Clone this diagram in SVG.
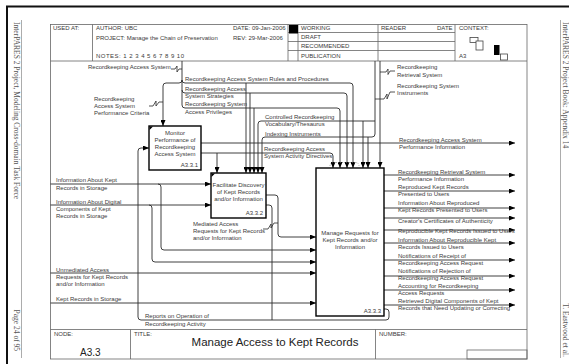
<svg xmlns="http://www.w3.org/2000/svg" width="569" height="364" viewBox="0 0 569 364">
<style>
.t{font-family:"Liberation Sans",Arial,sans-serif;font-size:6px;fill:#3a3a3a}
.tm{text-anchor:middle}
.te{text-anchor:end}
.s{font-family:"Liberation Serif","Times New Roman",serif;font-size:7.5px;fill:#555}
.c{fill:none;stroke:#2a2a2a;stroke-width:0.9}
.a{marker-end:url(#ah)}
.box{fill:#fff;stroke:#000;stroke-width:1.4}
.f{fill:none;stroke:#666;stroke-width:0.8}
.sq{fill:none;stroke:#2a2a2a;stroke-width:0.8}
</style>
<defs>
<marker id="ah" markerUnits="userSpaceOnUse" markerWidth="6" markerHeight="5" refX="6" refY="2.5" orient="auto">
<path d="M0,0 L6,2.5 L0,5 z" fill="#000"/>
</marker>
</defs>
<rect width="569" height="364" fill="#fff"/>
<g id="page">
<path d="M7,364 V6.5 H569" fill="none" stroke="#111" stroke-width="2"/>
<line x1="21.5" y1="20" x2="21.5" y2="358" stroke="#888" stroke-width="0.7"/>
<line x1="560.5" y1="20" x2="560.5" y2="358" stroke="#888" stroke-width="0.7"/>
<text class="s" transform="translate(13.5,22) rotate(90)">InterPARES 2 Project, Modeling Cross-domain Task Force</text>
<text class="s" transform="translate(13.5,351) rotate(90)" text-anchor="end">Page 24 of 95</text>
<text class="s" transform="translate(562.5,22) rotate(90)">InterPARES 2 Project Book: Appendix 14</text>
<text class="s" transform="translate(562.5,357) rotate(90)" text-anchor="end">T. Eastwood et al.</text>
</g>
<g id="form">
<rect x="50.5" y="24.5" width="476.5" height="334.5" class="f"/>
<line x1="50.5" y1="61" x2="527" y2="61" class="f"/>
<line x1="92.5" y1="24.5" x2="92.5" y2="61" class="f"/>
<line x1="288" y1="24.5" x2="288" y2="61" class="f"/>
<line x1="298" y1="24.5" x2="298" y2="61" class="f"/>
<line x1="378" y1="24.5" x2="378" y2="61" class="f"/>
<line x1="455" y1="24.5" x2="455" y2="61" class="f"/>
<line x1="288" y1="32.5" x2="455" y2="32.5" class="f"/>
<line x1="288" y1="41.5" x2="455" y2="41.5" class="f"/>
<line x1="288" y1="50.5" x2="455" y2="50.5" class="f"/>
<rect x="289" y="25" width="9" height="8.5" fill="#000"/>
<text class="t" x="53" y="30">USED AT:</text>
<text class="t" x="96" y="30">AUTHOR:  UBC</text>
<text class="t" x="96" y="40">PROJECT:  Manage the Chain of Preservation</text>
<text class="t" x="96" y="58" textLength="88" lengthAdjust="spacing">NOTES:  1  2  3  4  5  6  7  8  9  10</text>
<text class="t" x="233" y="30">DATE:  09-Jan-2006</text>
<text class="t" x="233" y="40">REV:    29-Mar-2006</text>
<text class="t" x="301" y="30">WORKING</text>
<text class="t" x="301" y="39">DRAFT</text>
<text class="t" x="301" y="48">RECOMMENDED</text>
<text class="t" x="301" y="58">PUBLICATION</text>
<text class="t" x="381" y="30">READER</text>
<text class="t" x="437" y="30">DATE</text>
<text class="t" x="459" y="30">CONTEXT:</text>
<text class="t" x="459" y="58">A3</text>
<rect x="470" y="37.5" width="8" height="5" fill="#fff" stroke="#444" stroke-width="0.8"/>
<rect x="476" y="41" width="7" height="9" fill="#fff" stroke="#444" stroke-width="0.8"/>
<rect x="494" y="45" width="5.5" height="10" fill="#000"/>
<rect x="500.5" y="54" width="7" height="6" fill="#fff" stroke="#444" stroke-width="0.8"/>
<line x1="50.5" y1="329.5" x2="527" y2="329.5" class="f"/>
<line x1="130.5" y1="329.5" x2="130.5" y2="359" class="f"/>
<line x1="375.5" y1="329.5" x2="375.5" y2="359" class="f"/>
<rect x="467" y="350" width="60" height="9" class="f"/>
<text class="t" x="54" y="336">NODE:</text>
<text class="t" x="134" y="336">TITLE:</text>
<text class="t" x="379" y="336">NUMBER:</text>
<text x="80" y="355.5" style="font-family:'Liberation Sans',Arial,sans-serif;font-size:10px;fill:#222">A3.3</text>
<text x="275" y="346" text-anchor="middle" style="font-family:'Liberation Sans',Arial,sans-serif;font-size:11.5px;fill:#222">Manage Access to Kept Records</text>
</g>
<g id="connectors">
<path class="c a" d="M182,61 V105 Q182,108 185,108 H337 Q340,108 340,111 V168"/>
<path class="c a" d="M182,80 Q182,83 185,83 H350 Q353,83 353,86 V168"/>
<path class="c a" d="M182,80 Q182,83 179,83 H166 Q163,83 163,86 V126"/>
<path class="c a" d="M182,90 Q182,93 185,93 H344 Q347,93 347,96 V168"/>
<path class="c a" d="M246,83 V173"/>
<path class="c a" d="M250,93 V173"/>
<path class="c a" d="M254,108 V173"/>
<path class="c a" d="M375,61 V134 Q375,137 372,137 H265 Q262,137 262,140 V173"/>
<path class="c a" d="M375,121 H261 Q258,121 258,124 V173"/>
<path class="c a" d="M363,121 V168"/>
<path class="c a" d="M368,137 V168"/>
<path class="c a" d="M380,61 V168"/>
<path class="c a" d="M201,143 H515"/>
<path class="c a" d="M201,153 H330 Q333,153 333,156 V168"/>
<path class="c a" d="M217,153 V173"/>
<path d="M330,166 Q330,162.5 334,162.5 H355 Q359,162.5 359,166" fill="none" stroke="#777" stroke-width="0.6" stroke-dasharray="1,1"/>
<path class="c a" d="M384,309 H386 Q389,309 389,312 V317 Q389,320 386,320 H141 Q138,320 138,317 V151 Q138,148 141,148 H149"/>
<path class="c" d="M266,205 H269 Q272,205 272,208 V320"/>
<path class="c a" d="M266,195 H275 Q278,195 278,198 V234 Q278,237 281,237 H316"/>
<path class="c a" d="M50.5,184 H211"/>
<path class="c a" d="M158,184 Q161,184 161,187 V247 Q161,250 164,250 H316"/>
<path class="c a" d="M50.5,205 H211"/>
<path class="c a" d="M149,205 Q152,205 152,208 V259 Q152,262 155,262 H316"/>
<path class="c a" d="M50.5,273 H316"/>
<path class="c a" d="M50.5,303 H316"/>
<path class="c a" d="M384,175 H515"/>
<path class="c a" d="M384,191 H515"/>
<path class="c a" d="M384,208 H515"/>
<path class="c a" d="M384,218 H515"/>
<path class="c a" d="M384,230 H515"/>
<path class="c a" d="M384,243 H515"/>
<path class="c a" d="M384,260 H515"/>
<path class="c a" d="M384,276 H515"/>
<path class="c a" d="M384,290 H515"/>
<path class="c a" d="M384,305 H515"/>
<path class="sq" d="M171,69 H175 L177,66 L177,72 L179,69 H182"/>
<path class="sq" d="M149,106 H153 L156,101 L156,106 L159,102 H163"/>
<path class="sq" d="M395,71 H390 L388,74.5 L388,69 L386,72 H380"/>
<path class="sq" d="M395,92 H390 L387,99 L387,94 L384,99 H375"/>
<path class="sq" d="M263,229 H268 L271,224 L271,228 L274,223 H278"/>
</g>
<g id="labels">
<text class="t" x="88" y="69">Recordkeeping Access System</text>
<text class="t" x="94" y="101">Recordkeeping</text>
<text class="t" x="94" y="108">Access System</text>
<text class="t" x="94" y="115">Performance Criteria</text>
<text class="t" x="185" y="80.5">Recordkeeping Access System Rules and Procedures</text>
<text class="t" x="185" y="91">Recordkeeping Access</text>
<text class="t" x="185" y="97.5">System Strategies</text>
<text class="t" x="185" y="106">Recordkeeping System</text>
<text class="t" x="185" y="113.5">Access Privileges</text>
<text class="t" x="265" y="119">Controlled Recordkeeping</text>
<text class="t" x="265" y="125.5">Vocabulary/Thesaurus</text>
<text class="t" x="265" y="135.5">Indexing Instruments</text>
<text class="t" x="264" y="151">Recordkeeping Access</text>
<text class="t" x="264" y="157.5">System Activity Directives</text>
<text class="t" x="397" y="69">Recordkeeping</text>
<text class="t" x="397" y="76.5">Retrieval System</text>
<text class="t" x="397" y="88">Recordkeeping System</text>
<text class="t" x="397" y="95">Instruments</text>
<text class="t" x="399" y="141.5">Recordkeeping Access System</text>
<text class="t" x="399" y="149">Performance Information</text>
<text class="t" x="56" y="182">Information About Kept</text>
<text class="t" x="56" y="189.5">Records in Storage</text>
<text class="t" x="56" y="203.5">Information About Digital</text>
<text class="t" x="56" y="210.5">Components of Kept</text>
<text class="t" x="56" y="217.5">Records in Storage</text>
<text class="t" x="56" y="271.5">Unmediated Access</text>
<text class="t" x="56" y="278.5">Requests for Kept Records</text>
<text class="t" x="56" y="285.5">and/or Information</text>
<text class="t" x="56" y="300.5">Kept Records in Storage</text>
<text class="t" x="193" y="226">Mediated Access</text>
<text class="t" x="193" y="233">Requests for Kept Records</text>
<text class="t" x="193" y="240">and/or Information</text>
<text class="t" x="145" y="318">Reports on Operation of</text>
<text class="t" x="145" y="326">Recordkeeping Activity</text>
<text class="t" x="398" y="173.5">Recordkeeping Retrieval System</text>
<text class="t" x="398" y="180.5">Performance Information</text>
<text class="t" x="398" y="189">Reproduced Kept Records</text>
<text class="t" x="398" y="196">Presented to Users</text>
<text class="t" x="398" y="204.5">Information About Reproduced</text>
<text class="t" x="398" y="211.5">Kept Records Presented to Users</text>
<text class="t" x="398" y="223">Creator's Certificates of Authenticity</text>
<text class="t" x="398" y="232.5">Reproducible Kept Records Issued to Users</text>
<text class="t" x="398" y="241.5">Information About Reproducible Kept</text>
<text class="t" x="398" y="248.5">Records Issued to Users</text>
<text class="t" x="398" y="258">Notifications of Receipt of</text>
<text class="t" x="398" y="265">Recordkeeping Access Request</text>
<text class="t" x="398" y="273">Notifications of Rejection of</text>
<text class="t" x="398" y="280">Recordkeeping Access Request</text>
<text class="t" x="398" y="288">Accounting for Recordkeeping</text>
<text class="t" x="398" y="295">Access Requests</text>
<text class="t" x="398" y="303">Retrieved Digital Components of Kept</text>
<text class="t" x="398" y="310">Records that Need Updating or Correcting</text>
</g>
<g id="A331">
<rect class="box" x="149" y="126" width="52" height="44"/>
<path d="M149.5,126.5 L153,126.5 L149.5,130 z" fill="#000"/>
<text class="t tm" x="175" y="135">Monitor</text>
<text class="t tm" x="175" y="142">Performance of</text>
<text class="t tm" x="175" y="149">Recordkeeping</text>
<text class="t tm" x="175" y="156">Access System</text>
<text class="t te" x="198" y="167">A3.3.1</text>
</g>
<g id="A332">
<rect class="box" x="211" y="173" width="55" height="45"/>
<path d="M211.5,173.5 L215,173.5 L211.5,177 z" fill="#000"/>
<text class="t tm" x="238.5" y="187">Facilitate Discovery</text>
<text class="t tm" x="238.5" y="194">of Kept Records</text>
<text class="t tm" x="238.5" y="201">and/or Information</text>
<text class="t te" x="263" y="215">A3.3.2</text>
</g>
<g id="A333">
<rect class="box" x="316" y="168" width="68" height="148"/>
<text class="t tm" x="350" y="235">Manage Requests for</text>
<text class="t tm" x="350" y="242">Kept Records and/or</text>
<text class="t tm" x="350" y="249">Information</text>
<text class="t te" x="381" y="313">A3.3.3</text>
</g>
</svg>
